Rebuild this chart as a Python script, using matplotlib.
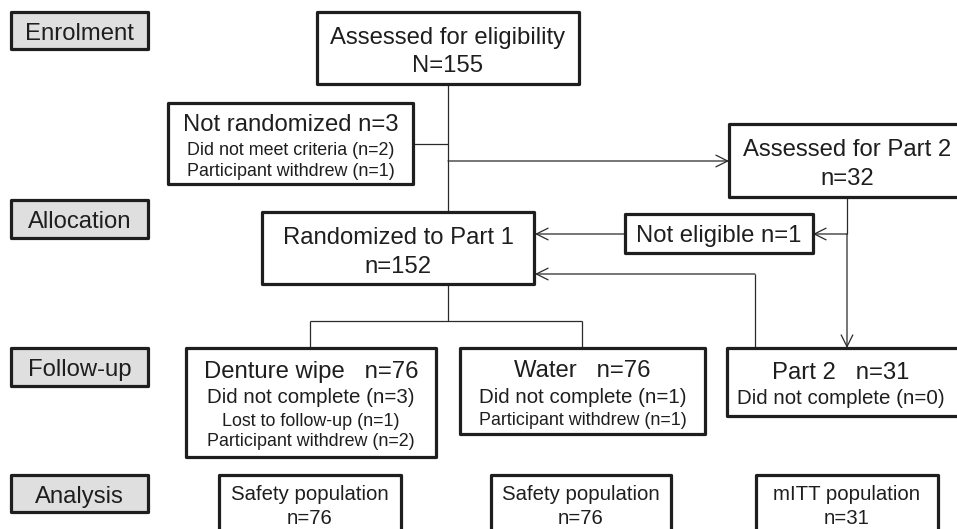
import matplotlib
matplotlib.use("Agg")
import matplotlib.pyplot as plt
from matplotlib.patches import Rectangle

plt.rcParams['font.family'] = ['Liberation Sans', 'DejaVu Sans']

# ---- data ----
stages = ["Enrolment", "Allocation", "Follow-up", "Analysis"]
n_assessed = 155
n_not_randomized = 3
not_randomized_reasons = ["Did not meet criteria", "Participant withdrew"]
not_randomized_counts = [2, 1]
n_assessed_part2 = 32
n_not_eligible = 1
n_randomized = 152
arms = ["Denture wipe", "Water", "Part 2"]
arm_n = [76, 76, 31]
arm_not_complete = [3, 1, 0]
denture_reasons = ["Lost to follow-up", "Participant withdrew"]
denture_counts = [1, 2]
water_reasons = ["Participant withdrew"]
water_counts = [1]
populations = ["Safety population", "Safety population", "mITT population"]
population_n = [76, 76, 31]

# ---- figure ----
W, H = 957, 529
fig = plt.figure(figsize=(W / 100, H / 100), dpi=100)
ax = fig.add_axes([0, 0, 1, 1])
ax.set_xlim(0, W)
ax.set_ylim(H, 0)
ax.axis('off')

DARK = '#1e1e1e'
LINE = '#2a2a2a'
BIG, MED, SMALL = 17.2, 14.8, 12.9
POP = 14.7
CAP = 0.69  # cap height / em for Liberation Sans


def box(x0, y0, x1, y1, fill='white'):
    ax.add_patch(Rectangle((x0, y0), x1 - x0, y1 - y0, facecolor=fill,
                           edgecolor=DARK, linewidth=2.3, zorder=3,
                           joinstyle='round'))


def txt(x, yc, s, size):
    em_px = size / 0.72
    ax.text(x, yc + CAP * em_px / 2, s, ha='center', va='baseline',
            fontsize=size, color=DARK, zorder=4)


def line(xs, ys):
    ax.plot(xs, ys, color=LINE, linewidth=0.9, zorder=2,
            solid_capstyle='butt')


def arrow(x0, y0, x1, y1):
    ax.annotate('', xy=(x1, y1), xytext=(x0, y0),
                arrowprops=dict(arrowstyle='->,head_length=0.4,head_width=0.2',
                                color=LINE, lw=0.9, mutation_scale=21,
                                shrinkA=0, shrinkB=0), zorder=2)


# stage labels
stage_y = [(12, 49), (200, 238), (348, 386), (475, 512)]
for name, (a, b) in zip(stages, stage_y):
    box(11, a, 148, b, fill='#dfdfdf')
    txt(79.5, (a + b) / 2 + 1, name, BIG)

# connectors
line([448, 448], [84, 212])
line([413, 448], [144, 144])
arrow(448, 161, 729, 161)
line([847, 847], [197, 234])
arrow(847, 234, 847, 348)
arrow(847, 234, 813, 234)
arrow(625, 234, 535, 234)
line([755, 755], [348, 274])
arrow(755, 274, 535, 274)
line([448, 448], [284, 321])
line([310, 582], [321, 321])
line([310, 310], [321, 348])
line([582, 582], [321, 348])

# Assessed for eligibility
box(317, 12, 579, 84)
txt(448, 36, "Assessed for eligibility", BIG)
txt(448, 64, f"N={n_assessed}", BIG)

# Not randomized
box(168, 103, 413, 184)
txt(290.5, 122.5, f"Not randomized n={n_not_randomized}", BIG)
for i, (r, c) in enumerate(zip(not_randomized_reasons, not_randomized_counts)):
    txt(290.5, 149 + 20.5 * i, f"{r} (n={c})", SMALL)

# Assessed for Part 2
box(729, 124, 975, 197)
txt(847, 148, "Assessed for Part 2", BIG)
txt(847, 177, f"n={n_assessed_part2}", BIG)

# Not eligible
box(625, 214, 813, 253)
txt(719, 234, f"Not eligible n={n_not_eligible}", BIG)

# Randomized
box(262, 212, 534, 284)
txt(398, 236, "Randomized to Part 1", BIG)
txt(398, 265, f"n={n_randomized}", BIG)

# Denture wipe
box(186, 348, 436, 457)
txt(311, 370, f"{arms[0]}   n={arm_n[0]}", BIG)
txt(311, 396, f"Did not complete (n={arm_not_complete[0]})", MED)
for i, (r, c) in enumerate(zip(denture_reasons, denture_counts)):
    txt(311, 419.5 + 20.5 * i, f"{r} (n={c})", SMALL)

# Water
box(460, 348, 705, 434)
txt(582.5, 369, f"{arms[1]}   n={arm_n[1]}", BIG)
txt(582.5, 396, f"Did not complete (n={arm_not_complete[1]})", MED)
for i, (r, c) in enumerate(zip(water_reasons, water_counts)):
    txt(582.5, 419 + 20.5 * i, f"{r} (n={c})", SMALL)

# Part 2
box(727, 348, 975, 416)
txt(841, 371, f"{arms[2]}   n={arm_n[2]}", BIG)
txt(841, 396.5, f"Did not complete (n={arm_not_complete[2]})", MED)

# populations
pop_x = [(219, 401), (491, 671), (756, 938)]
for name, n, (a, b) in zip(populations, population_n, pop_x):
    box(a, 475, b, 545)
    txt((a + b) / 2, 492.5, name, POP)
    txt((a + b) / 2, 516.5, f"n={n}", POP)

fig.savefig('out.png', dpi=100)
